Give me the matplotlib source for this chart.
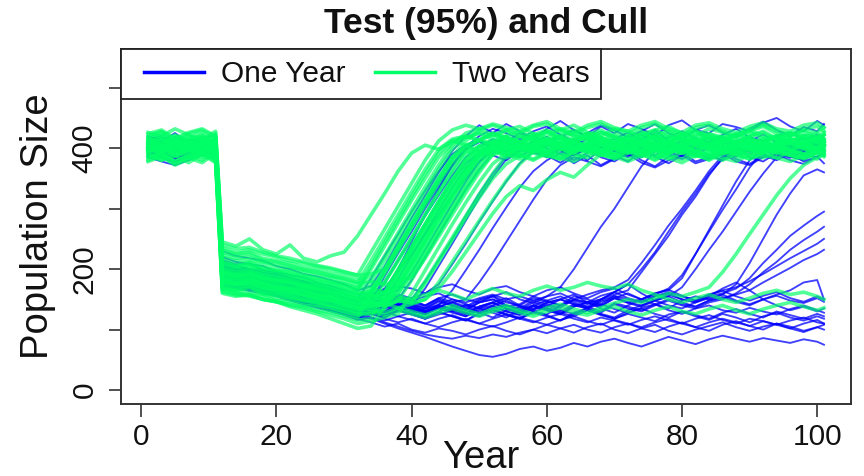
import matplotlib
matplotlib.use('Agg')
import matplotlib.pyplot as plt
from matplotlib.lines import Line2D
from matplotlib.legend_handler import HandlerLine2D

plt.rcParams['font.family'] = ['Liberation Sans', 'DejaVu Sans']

# sampling years (x categories)
years = [1, 3, 5, 7, 9, 11, 12, 14, 16, 18, 20, 22, 24, 26, 28, 30, 32, 34, 36, 38,
         40, 42, 44, 46, 48, 50, 52, 54, 56, 58, 60, 62, 64, 66, 68, 70, 72, 74, 76,
         78, 80, 82, 84, 86, 88, 90, 92, 94, 96, 98, 100, 101]

# "One Year" simulation runs (population size at each sampled year)
one_year = [
    [405,398,412,401,395,408, 215,208,210,198,195,186,180,172,168,160,150, 185,222,258,295,330,362,390,405,412,400,418,409,396,411,420,405,398,414,407,392,410,425,402,396,415,408,399,412,420,404,395,410,418,402,408],
    [392,401,388,397,405,390, 188,182,185,176,170,168,160,152,148,140,132, 160,196,232,270,305,342,372,398,410,402,395,412,420,408,401,389,405,416,398,410,422,414,400,393,408,417,405,396,411,423,409,400,392,406,414],
    [410,418,402,409,415,400, 202,196,190,192,180,175,170,162,158,150,145, 150,178,214,250,288,322,355,385,402,415,408,396,410,419,402,411,425,410,398,404,415,430,412,401,395,410,418,406,398,412,420,407,399,413,404],
    [420,412,425,408,416,422, 230,222,218,214,205,200,192,188,182,175,165, 172,205,245,285,322,360,395,420,438,425,440,428,415,432,445,430,418,436,425,440,432,420,438,446,430,425,440,435,428,442,450,436,428,445,438],
    [385,378,372,380,390,382, 175,170,166,160,158,150,145,138,132,125,118, 128,165,200,238,275,312,345,375,392,388,380,395,402,388,376,390,398,385,378,392,400,386,375,388,396,382,390,401,385,378,392,386,380,395,388],
    [400,408,396,402,411,398, 198,192,195,186,180,172,170,164,155,150,142, 146,188,226,262,300,336,370,398,412,405,418,402,396,410,422,408,400,415,405,392,410,420,406,398,414,409,395,405,418,412,400,408,416,402,410],
    [395,405,412,400,392,404, 190,185,178,180,172,166,160,156,150,142,136, 140,150,185,222,260,298,335,368,392,408,398,386,400,412,404,392,405,415,398,388,402,410,395,405,418,400,392,408,402,390,405,412,398,410,404],
    [408,400,394,406,399,410, 210,204,200,195,190,182,178,170,165,158,150, 155,168,196,225,258,290,322,350,378,395,410,400,392,388,402,395,380,398,406,392,385,400,410,396,388,402,394,386,398,405,392,384,396,402,396],
    [402,396,404,410,400,395, 185,180,176,170,168,162,156,150,146,138,130, 136,138,150,182,220,258,295,332,365,392,405,398,412,400,390,404,415,402,395,408,400,388,402,412,398,405,395,410,402,392,406,415,400,398,408],
    [415,420,408,412,418,405, 220,212,208,205,196,190,186,178,172,165,158, 160,158,165,195,232,270,308,345,378,398,410,425,415,405,418,430,420,408,415,426,412,404,418,428,415,410,422,432,418,408,420,426,414,422,416],
    [398,390,402,395,388,400, 180,176,170,168,160,155,150,142,138,130,122, 128,125,130,138,168,205,242,280,318,352,382,398,392,405,396,388,400,410,395,385,398,408,394,386,402,410,396,390,404,398,386,400,408,395,402],
    [405,412,400,408,415,402, 195,190,186,182,176,170,164,160,152,146,140, 142,145,140,150,180,215,250,288,325,358,386,404,396,385,398,380,392,402,388,378,395,404,390,382,396,388,380,394,402,390,384,398,405,392,398],
    [390,384,376,388,395,380, 178,172,168,165,158,152,148,140,135,128,120, 125,130,122,128,135,140,165,198,232,268,302,335,362,380,392,375,388,372,384,395,380,370,386,392,378,385,396,382,374,388,380,392,378,386,375],
    [410,404,398,412,406,415, 205,200,196,190,185,178,172,168,160,154,148, 150,158,200,245,290,332,372,402,420,432,425,415,428,436,422,412,425,438,430,418,428,440,425,415,430,438,426,418,432,444,430,420,435,428,440],
    [400,395,405,398,392,404, 188,184,180,175,170,164,158,152,145,140,134, 138,135,142,136,130,138,145,150,178,210,245,280,315,348,372,385,378,370,382,390,376,368,380,388,375,382,392,378,372,385,390,380,374,386,392],
    [412,406,418,410,402,408, 212,206,200,198,192,185,180,175,168,160,152, 155,150,158,152,160,175,208,242,278,312,345,375,395,408,400,415,405,395,410,420,406,398,412,404,392,408,418,402,396,410,420,405,398,412,408],
    # late recoveries
    [398,405,392,400,410,396, 192,188,182,178,172,165,160,155,148,142,136, 140,146,152,148,155,160,150,145,152,158,150,155,148,155,170,200,235,270,300,335,370,395,400,392,405,398,410,402,395,408,400,412,405,398,402],
    [402,396,408,400,394,405, 186,180,178,170,166,160,152,148,142,136,130, 135,128,140,132,125,138,130,142,135,128,120,132,140,135,126,138,145,150,158,165,195,225,255,290,320,355,385,398,405,396,410,402,395,408,400],
    [392,400,386,395,402,390, 200,195,188,186,178,172,168,160,155,150,142, 145,138,150,142,135,148,140,132,145,150,138,142,155,148,140,150,158,165,170,182,210,240,272,300,330,362,388,402,394,405,398,390,404,396,392],
    [408,402,396,410,404,398, 182,178,172,168,162,158,150,145,140,132,126, 130,122,135,128,118,125,132,140,128,120,132,138,130,125,140,148,142,150,162,175,200,228,262,295,325,358,382,398,390,402,395,388,400,392,396],
    [395,388,400,406,398,392, 195,190,186,180,175,170,162,158,150,145,138, 142,135,148,140,130,138,145,135,128,140,148,138,132,145,150,142,135,148,155,145,150,160,165,185,225,265,305,345,380,400,392,405,398,402,395],
    [410,404,415,400,408,412, 208,200,196,192,185,180,172,168,160,152,145, 148,140,152,145,138,150,142,135,148,155,140,132,145,138,150,158,145,140,152,160,150,158,168,190,225,262,298,332,368,395,405,396,388,402,398],
    [388,395,382,390,398,386, 178,174,170,165,160,152,148,142,136,130,124, 128,120,132,125,118,130,122,115,128,135,125,118,130,124,115,128,135,126,120,132,140,148,155,170,200,232,262,295,328,358,385,398,390,385,396],
    [400,392,405,398,390,402, 190,186,180,176,170,166,160,152,148,140,134, 138,130,142,135,128,140,132,125,138,145,135,128,140,132,125,138,145,135,128,140,150,142,135,148,155,150,158,175,210,250,290,325,355,365,360],
    [405,398,410,402,396,408, 196,190,188,182,176,170,165,160,152,146,140, 144,138,150,142,135,146,140,132,145,150,140,135,148,142,136,150,145,138,152,145,140,150,158,150,145,155,160,168,185,210,232,255,272,288,295],
    [394,400,388,396,404,392, 185,180,175,172,165,160,155,148,142,136,130, 134,128,140,132,125,136,130,122,135,140,130,125,138,132,126,140,135,128,142,135,130,140,148,140,135,145,150,160,175,195,212,232,248,262,270],
    [412,406,400,414,408,402, 202,198,192,188,182,176,170,165,158,150,144, 148,142,155,148,140,152,146,138,150,156,145,140,152,146,140,155,150,142,156,150,145,155,162,155,148,158,165,170,180,192,205,218,230,242,250],
    [398,404,392,400,408,396, 188,184,178,175,168,162,158,150,145,138,132, 136,130,142,135,128,140,134,126,138,144,134,128,140,135,130,142,138,130,144,138,132,142,150,142,138,148,152,158,165,178,190,202,215,225,232],
    # runs that stay low
    [402,395,408,400,392,405, 190,185,180,176,170,165,158,152,146,140,132, 128,120,132,125,118,128,122,115,126,132,124,118,128,122,115,125,132,124,118,126,120,114,125,130,122,116,126,120,112,122,128,120,115,122,118],
    [392,386,378,385,395,388, 180,175,170,165,160,155,148,142,136,130,122, 118,110,102,95,88,80,72,65,58,55,60,68,72,65,70,78,72,80,85,78,72,80,88,82,76,84,90,85,80,86,82,78,84,80,75],
    [405,398,410,402,398,406, 185,180,175,170,165,158,152,146,140,134,128, 120,112,105,98,92,88,85,90,86,92,88,95,100,94,102,108,100,95,104,110,102,96,105,112,104,98,108,114,106,100,110,105,98,104,100],
    [398,405,392,400,406,396, 176,172,168,162,158,150,145,140,132,125,118, 112,105,110,100,95,102,98,92,100,106,98,92,100,108,102,95,104,110,100,94,102,108,98,92,100,106,112,104,98,105,110,102,96,104,108],
    [410,402,414,406,400,412, 205,200,195,190,184,178,172,166,160,152,146, 150,145,155,148,140,152,158,150,145,155,162,150,144,155,160,150,145,156,162,152,146,155,160,150,145,152,158,148,142,150,156,148,144,152,146],
    [396,390,402,395,388,400, 195,190,185,180,176,170,164,158,152,145,138, 142,135,145,138,130,140,135,128,138,145,135,130,140,148,155,145,138,150,162,175,160,148,140,135,145,155,168,178,165,150,140,132,138,130,135],
    [404,410,398,405,412,400, 182,178,174,170,164,158,152,146,140,134,126, 130,124,135,128,120,130,138,128,122,132,126,120,130,136,128,122,132,125,118,128,135,126,120,130,124,118,128,134,126,120,130,124,118,126,122],
    [400,394,406,398,392,402, 210,205,198,195,188,182,176,170,164,158,150, 158,165,172,168,160,170,175,165,158,168,172,162,155,165,170,160,152,162,168,158,150,160,166,156,148,158,164,155,148,156,162,152,146,155,150],
    [388,395,384,392,400,390, 172,168,164,160,155,148,142,136,130,124,116, 120,115,122,116,110,118,124,116,110,118,125,118,112,120,126,118,112,120,115,108,116,122,115,110,118,124,116,110,118,114,108,115,120,112,110],
    [412,405,418,410,402,415, 198,194,188,185,178,172,168,160,155,148,140, 145,138,148,140,132,142,150,142,135,145,152,140,134,144,150,142,136,146,152,144,138,148,155,145,138,148,154,146,140,150,158,165,178,182,150],
    [395,400,390,398,405,392, 188,184,178,174,168,162,156,150,144,138,130, 135,128,138,132,125,135,128,122,132,138,130,124,134,140,132,126,136,142,134,128,136,142,132,126,135,140,132,128,136,130,125,134,140,132,128],
    [402,408,396,404,410,398, 192,186,182,178,172,166,160,154,148,140,134, 126,118,112,118,110,104,112,118,110,105,112,120,114,108,116,122,114,108,116,110,104,112,118,110,104,112,118,112,106,114,108,102,110,116,110],
]

# "Two Years" simulation runs
two_years = [
    [418,426,410,420,412,424, 245,238,250,232,225,240,218,212,222,228,255, 290,325,362,392,405,398,412,405,395,410,420,402,398,412,406,395,408,418,404,398,410,422,408,400,414,405,396,410,418,404,398,412,408,402,410],
    [405,398,412,402,396,408, 228,222,225,215,212,206,200,196,190,185,178, 214,252,290,328,365,398,415,420,412,425,418,410,422,430,418,412,425,418,408,420,428,415,410,422,430,418,412,424,418,408,420,426,415,410,422],
    [385,392,378,388,396,382, 172,166,170,160,158,154,150,145,140,136,128, 165,202,240,278,315,352,385,400,395,404,390,398,406,394,388,400,408,396,390,402,396,386,398,406,394,390,402,396,388,400,408,396,390,398,404],
    [415,422,408,418,426,412, 215,208,212,204,198,196,190,185,180,176,168, 205,244,282,320,358,392,412,420,414,424,416,408,420,428,416,410,422,430,418,410,424,416,408,420,428,414,408,422,426,416,410,420,428,418,414],
    [400,408,394,402,412,398, 198,192,196,188,182,180,175,170,166,160,155, 158,152,160,192,228,264,300,336,370,396,410,404,414,406,398,410,418,404,398,412,406,396,408,416,404,398,410,416,402,396,408,414,404,398,410],
    [392,380,388,376,390,384, 165,160,158,155,148,146,140,138,132,126,120, 155,192,230,268,305,342,375,395,388,398,384,392,400,388,382,394,400,390,384,396,390,380,392,400,388,384,396,390,382,394,400,388,384,392,398],
    [410,418,404,412,420,406, 210,204,208,198,196,190,186,178,176,170,165, 200,238,276,314,350,385,408,418,424,414,420,428,416,410,422,430,420,412,424,418,410,422,428,416,412,424,418,410,420,428,416,412,422,418,426],
    [398,392,406,396,388,402, 190,185,188,180,176,170,168,162,156,152,148, 150,146,152,148,180,216,252,288,324,358,388,404,400,410,402,394,406,412,400,394,408,402,394,404,410,400,394,406,402,394,404,410,400,396,406],
    [420,428,414,424,430,418, 232,225,228,218,214,210,204,200,194,190,184, 186,222,260,298,336,372,405,425,432,422,430,436,424,418,430,438,426,420,432,428,418,430,436,424,420,432,426,418,428,436,424,420,430,426,434],
    [395,402,388,398,405,392, 182,176,180,172,168,165,158,155,150,145,140, 142,178,215,252,290,326,360,390,404,398,408,400,394,404,410,400,394,406,400,392,402,408,398,392,404,398,390,402,408,398,394,404,400,392,402],
    [408,414,400,410,418,404, 205,200,203,194,190,186,182,176,172,166,160, 162,198,236,274,312,348,382,405,414,408,418,410,404,414,420,410,404,416,410,402,414,420,410,404,414,418,408,402,414,410,404,412,418,410,414],
    [380,388,374,384,392,378, 168,164,162,158,152,150,145,140,136,130,124, 126,162,200,238,275,312,348,378,394,388,398,390,382,394,400,390,384,396,390,382,392,398,388,382,394,388,380,392,398,388,384,394,390,382,392],
    [412,406,420,410,404,416, 220,214,216,210,204,200,196,190,186,180,175, 178,215,252,290,328,365,398,418,426,420,428,420,414,426,432,420,414,426,420,412,424,430,420,414,426,420,412,422,430,420,414,424,420,414,422],
    [398,404,390,400,408,394, 185,180,184,176,170,168,164,158,154,148,142, 146,140,148,144,150,178,212,246,280,314,346,374,394,404,410,402,396,406,412,402,396,408,402,394,404,410,400,394,406,400,392,404,410,400,396],
    [402,396,410,400,392,406, 200,195,198,190,186,182,176,172,168,162,158, 160,196,234,272,310,346,380,404,412,406,416,408,402,412,418,408,402,414,408,400,412,418,408,402,412,416,406,400,412,408,402,410,416,408,412],
    [378,386,372,382,390,376, 162,157,156,150,146,142,138,132,128,122,116, 118,152,190,228,266,302,338,368,388,396,390,382,394,400,390,384,396,390,382,392,398,388,382,394,390,380,392,398,388,384,394,390,382,392,396],
    [408,402,416,406,400,412, 195,190,192,185,182,178,172,168,162,158,152, 156,162,198,236,274,312,348,382,404,412,406,398,410,416,406,400,412,418,408,402,412,408,398,410,416,406,400,412,408,402,410,416,406,400,410],
    [396,404,390,398,408,394, 180,175,178,170,166,162,158,152,148,142,136, 140,146,182,220,258,296,332,366,392,402,396,406,398,392,404,410,400,394,406,400,392,402,408,398,392,404,398,390,402,408,398,394,404,400,394],
    [390,384,398,388,380,394, 188,184,186,178,174,170,166,160,156,150,145, 148,154,190,228,266,304,340,372,396,404,398,390,402,408,398,392,404,398,390,400,406,396,390,402,396,388,400,406,396,392,402,398,390,400,404],
    [426,420,432,422,414,428, 235,228,232,225,220,214,210,205,200,195,190, 192,200,236,274,312,350,386,412,430,438,430,424,436,440,428,422,434,440,430,424,434,440,428,422,434,438,428,420,432,438,428,422,432,436,428],
    [396,402,388,398,404,390, 192,186,190,182,178,175,170,165,160,155,150, 152,160,196,234,272,310,346,380,402,410,404,396,408,414,404,398,408,402,394,406,412,402,396,406,412,400,394,406,402,396,408,414,404,396,406],
    [404,396,410,402,394,406, 176,171,174,166,162,158,155,150,145,140,134, 136,142,178,216,254,292,328,362,390,404,398,408,400,394,406,412,402,396,408,404,396,406,412,402,396,408,404,396,406,412,402,398,408,404,398],
    [412,418,404,414,422,408, 212,206,210,202,198,194,190,184,180,175,170, 172,178,214,252,290,328,364,396,414,422,416,410,420,426,416,410,420,426,416,408,420,426,414,410,420,424,414,408,420,426,414,410,420,424,416],
    [388,380,394,384,376,392, 170,165,168,160,156,152,148,144,138,132,126, 128,134,170,208,246,284,320,354,382,396,390,400,392,386,398,404,394,388,400,394,386,396,402,392,386,398,392,384,396,402,392,388,398,394,388],
    [406,414,400,408,416,402, 208,202,206,198,194,190,185,180,176,170,165, 168,162,172,206,244,282,320,356,388,406,414,408,418,410,404,414,420,410,404,416,410,402,414,418,408,404,414,410,402,412,418,408,412,418,410],
    [400,408,394,404,412,398, 196,190,194,186,182,178,174,168,164,158,153, 156,150,160,194,232,270,308,344,376,398,408,402,396,408,414,404,398,408,404,396,406,412,402,396,408,404,396,406,412,402,398,408,404,398,406],
    [384,392,378,388,396,380, 160,155,158,150,146,140,136,130,124,118,110, 114,120,126,160,198,236,274,310,344,374,392,386,396,388,382,394,400,390,384,396,390,382,392,398,388,382,394,390,382,392,398,388,384,394,390],
    [416,410,422,412,406,418, 202,196,200,192,188,184,180,174,170,164,160, 164,158,168,202,240,278,316,352,384,404,414,420,412,406,418,424,414,408,418,412,406,416,422,412,406,416,420,410,406,416,420,410,406,416,412],
    [398,392,406,396,388,402, 184,178,182,175,170,166,162,156,152,146,140, 144,138,148,182,220,258,296,332,364,390,404,398,408,412,402,396,406,412,402,396,408,404,396,406,412,402,398,408,404,396,406,410,402,398,406],
    [410,404,398,408,414,402, 224,218,220,212,208,204,198,194,188,184,178, 180,174,182,186,218,254,290,326,360,390,408,418,424,414,408,418,424,414,408,420,416,408,418,424,414,408,418,422,412,408,420,416,408,418,422],
    [394,400,386,396,402,388, 186,180,184,176,172,168,164,158,154,148,144, 146,140,148,144,176,212,248,284,318,350,374,388,380,392,384,378,390,396,386,378,388,394,384,376,388,394,384,378,390,396,384,378,388,394,386],
    [424,430,416,426,432,420, 240,234,236,228,222,218,212,206,202,196,190, 228,266,304,342,380,412,430,438,432,440,434,428,438,444,432,426,438,444,434,428,438,444,432,426,438,442,432,426,436,442,432,428,438,442,434],
    [402,396,408,400,394,404, 168,160,156,150,146,138,132,126,118,110,102, 106,138,175,212,250,288,325,360,390,404,398,410,404,396,408,412,402,396,406,412,402,396,408,404,396,406,412,402,398,408,404,396,406,410,404],
    [395,388,402,392,384,398, 180,175,178,170,166,162,158,152,148,142,136, 138,144,136,142,150,168,196,228,260,292,320,338,330,348,360,352,372,390,402,396,408,400,392,404,410,400,394,406,400,392,404,410,402,396,404],
    # runs that stay low (or recover only at the end)
    [400,394,406,398,392,402, 194,188,192,184,180,176,170,166,160,155,150, 140,148,155,150,158,165,158,150,160,168,160,155,165,172,165,170,178,172,168,175,165,158,150,145,152,158,150,145,152,160,165,158,162,155,150],
    [396,404,390,398,406,394, 178,174,176,168,164,160,156,150,146,140,134, 134,128,136,130,124,132,140,132,126,134,140,132,126,136,142,134,128,136,144,150,145,152,160,155,162,170,195,225,258,290,322,350,372,385,390],
    [408,402,414,406,400,410, 174,170,172,164,160,156,150,146,140,135,130, 130,124,132,126,120,128,135,128,122,130,136,128,122,130,136,128,124,132,138,130,124,132,138,130,126,134,140,132,126,134,140,145,138,132,136],
]

series_labels = ['One Year', 'Two Years']
series_colors = ['#0000FF', '#00FF66']

fig = plt.figure(figsize=(8.64, 4.76), dpi=100)
ax = fig.add_axes([121/864, 1 - 404/476, (851 - 121)/864, (404 - 49)/476])

for run in one_year:
    ax.plot(years[:len(run)], run, color=series_colors[0], alpha=0.75, lw=1.35,
            solid_joinstyle='round')
for run in two_years:
    ax.plot(years[:len(run)], run, color=series_colors[1], alpha=0.68, lw=2.6,
            solid_joinstyle='round')

ax.set_xlim(-3, 105)
ax.set_ylim(-23, 564)
ax.set_xticks([0, 20, 40, 60, 80, 100])
ax.set_yticks([0, 100, 200, 300, 400, 500])
ax.set_yticklabels(['0', '', '200', '', '400', ''], rotation=90, va='center')
ax.tick_params(axis='both', labelsize=21.5, length=9, width=1.2, color='#333333',
               labelcolor='#111111')
ax.tick_params(axis='x', pad=5)
ax.tick_params(axis='y', pad=7)
for s in ax.spines.values():
    s.set_linewidth(1.4)
    s.set_color('#333333')

fig.text((121 + 851) / 2 / 864, 1 - 23 / 476, 'Test (95%) and Cull', ha='center',
         va='center', fontsize=25.5, fontweight='bold', color='#111111')
fig.text(481 / 864, 1 - 458 / 476, 'Year', ha='center', va='center', fontsize=27.5,
         color='#111111')
fig.text(38 / 864, 1 - 226 / 476, 'Population Size', ha='center', va='center',
         rotation=90, fontsize=27.5, color='#111111')

handles = [Line2D([0], [0], color=c, lw=2.5) for c in series_colors]
leg = ax.legend(handles, series_labels, loc='upper left', bbox_to_anchor=(0, 1),
                borderaxespad=0, ncol=2, fancybox=False, edgecolor='#222222',
                framealpha=1, fontsize=21.5, handlelength=2.4, handletextpad=0.57,
                columnspacing=0.6, borderpad=0.37,
                handler_map={Line2D: HandlerLine2D(xpad=0.4)})
leg.get_frame().set_linewidth(1.3)
for t in leg.get_texts():
    t.set_color('#111111')

fig.savefig('out.png', dpi=100)
